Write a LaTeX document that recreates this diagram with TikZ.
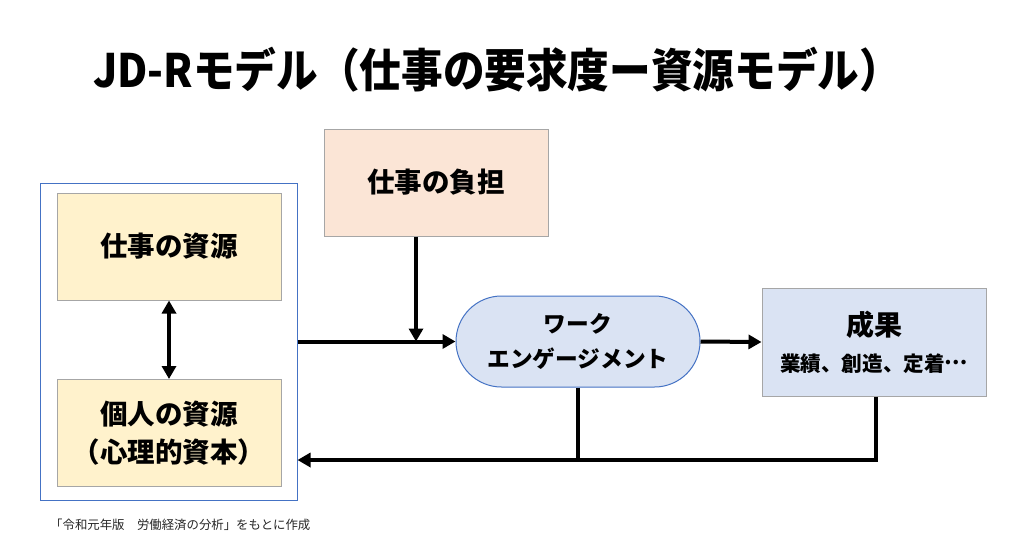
\documentclass[tikz,border=0pt]{standalone}
\usepackage{fontspec}
\newfontfamily\jp{Noto Sans CJK JP}
\usetikzlibrary{arrows.meta,shapes.misc}
\definecolor{yel}{HTML}{FFF2CC}
\definecolor{pch}{HTML}{FBE5D6}
\definecolor{blu}{HTML}{DAE3F3}
\definecolor{bord}{HTML}{A6A6A6}
\definecolor{bblue}{HTML}{4472C4}
\tikzset{
  boxy/.style={draw=bord,line width=1pt,minimum width=224pt,minimum height=107pt,inner sep=0pt,align=center,font=\jp\bfseries\fontsize{27.5}{38}\selectfont},
  conn/.style={line width=4pt,-{Triangle[length=13pt,width=14pt]}},
  plain/.style={line width=4pt}
}
\begin{document}
\begin{tikzpicture}[x=1pt,y=-1pt]
\useasboundingbox[fill=white] (0,0) rectangle (1024,555);
\node[font=\jp\bfseries\fontsize{46}{52}\selectfont,anchor=center,inner sep=0pt] (title) at (497,70) {\scalebox{0.905}[1]{JD-Rモデル（仕事の要求度ー資源モデル）}};
\node[draw=bblue,line width=1pt,minimum width=257pt,minimum height=317pt,inner sep=0pt] (outer) at (168.5,341.5) {};
\node[boxy,fill=yel] (jr) at (169,246.5) {仕事の資源};
\node[boxy,fill=yel] (pr) at (169,433) {個人の資源\\（心理的資本）};
\node[boxy,fill=pch] (jd) at (436,182.5) {仕事の負担};
\node[draw=bblue,line width=1pt,fill=blu,rounded rectangle,minimum width=244pt,minimum height=91pt,inner sep=0pt,align=center,font=\jp\fontsize{22.7}{35}\selectfont\bfseries] (we) at (578,341.5) {ワーク\\エンゲージメント};
\node[boxy,fill=blu,minimum height=108pt] (out) at (874,342) {\fontsize{28}{34}\selectfont 成果\\[-2pt]\fontsize{20.6}{30}\selectfont 業績、創造、定着\raisebox{0.33em}{…}};
\node[font=\jp\fontsize{12.4}{14}\selectfont,anchor=west,inner sep=0pt,text=black!85] (note) at (50,525) {「令和元年版　労働経済の分析」をもとに作成};
\coordinate (m) at (416,341.5);
\coordinate (fb) at (578,460);
\coordinate (fo) at (876,460);
\draw[line width=4pt,{Triangle[length=13pt,width=14pt]}-{Triangle[length=13pt,width=14pt]}] (jr.south) -- (pr.north);
\draw[conn] (outer.east) -- (we.west);
\draw[conn] (jd.south -| m) -- (m);
\draw[conn] (we.east) -- (out.west);
\draw[plain] (we.south -| fb) -- (fb);
\draw[conn] (out.south -| fo) -- (fo) -- (outer.east |- fo);
\end{tikzpicture}
\end{document}
